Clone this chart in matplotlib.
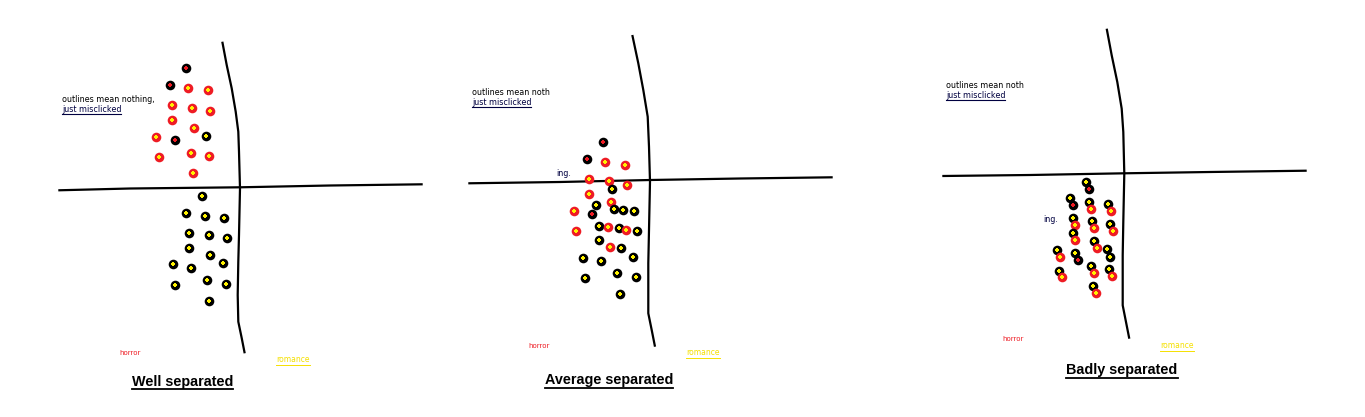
import numpy as np
import matplotlib.pyplot as plt

# ---------------------------------------------------------------
# point data (pixel coords, y grows down)
# kind: BY = black dot / yellow centre, RY = red dot / yellow centre,
#       BR = black dot / red centre
# ---------------------------------------------------------------
well_x = [185.7, 170.3, 188.3, 207.7, 172.3, 191.7, 210.0, 172.3, 194.0, 156.3,
          174.7, 206.3, 158.7, 190.7, 209.0, 192.7,
          202.3, 186.3, 204.7, 224.3, 189.0, 208.7, 226.7, 189.0, 210.3, 222.7,
          173.3, 191.3, 207.3, 225.7, 175.3, 209.3]
well_y = [68.3, 85.3, 88.3, 90.3, 105.3, 107.7, 110.7, 120.3, 127.7, 137.3,
          140.3, 136.3, 157.3, 153.3, 156.3, 173.3,
          195.7, 212.7, 216.0, 218.3, 232.7, 235.0, 238.3, 247.7, 255.3, 263.3,
          264.3, 267.7, 280.0, 283.7, 285.0, 300.7]
well_kind = ['BR', 'BR', 'RY', 'RY', 'RY', 'RY', 'RY', 'RY', 'RY', 'RY',
             'BR', 'BY', 'RY', 'RY', 'RY', 'RY'] + ['BY'] * 16

avg_x = [602.7, 587.0, 605.3, 624.7, 589.3, 609.0, 627.0, 612.3, 589.3, 611.3,
         596.3, 614.3, 623.3, 634.3, 573.7, 592.0, 599.0, 607.7, 618.7, 626.0,
         636.7, 575.7, 599.0, 610.0, 620.7, 632.7, 583.3, 601.3, 617.0, 635.7,
         585.3, 619.7]
avg_y = [142.3, 159.3, 162.3, 164.7, 179.3, 181.3, 185.0, 188.7, 194.3, 202.0,
         205.0, 209.0, 210.3, 211.3, 211.3, 214.0, 225.7, 227.3, 228.0, 230.3,
         231.3, 231.3, 240.3, 247.3, 248.3, 256.7, 257.7, 260.7, 273.3, 276.7,
         277.7, 293.7]
avg_kind = ['BR', 'BR', 'RY', 'RY', 'RY', 'RY', 'RY', 'BY', 'RY', 'RY',
            'BY', 'BY', 'BY', 'BY', 'RY', 'BR', 'BY', 'RY', 'BY', 'RY',
            'BY', 'RY', 'BY', 'RY', 'BY', 'BY', 'BY', 'BY', 'BY', 'BY',
            'BY', 'BY']

bad_x = [1086.0, 1089.0, 1070.3, 1073.3, 1088.7, 1091.3, 1108.3, 1110.7,
         1073.0, 1075.3, 1092.3, 1094.3, 1110.3, 1112.7, 1072.7, 1075.0,
         1094.3, 1097.3, 1107.0, 1109.7, 1057.3, 1059.7, 1075.3, 1078.0,
         1091.0, 1093.7, 1109.3, 1111.7, 1059.3, 1062.0, 1093.0, 1095.7]
bad_y = [181.7, 188.7, 198.3, 205.3, 202.0, 208.7, 203.7, 210.7,
         218.3, 225.3, 221.0, 227.7, 224.0, 231.0, 233.3, 240.3,
         241.0, 248.0, 249.3, 256.7, 250.3, 257.3, 253.3, 260.0,
         266.3, 273.3, 269.3, 276.3, 270.7, 277.3, 286.3, 293.3]
bad_kind = ['BY', 'BR', 'BY', 'BR', 'BY', 'RY', 'BY', 'RY',
            'BY', 'RY', 'BY', 'RY', 'BY', 'RY', 'BY', 'RY',
            'BY', 'RY', 'BY', 'BY', 'BY', 'RY', 'BY', 'BR',
            'BY', 'RY', 'BY', 'RY', 'BY', 'RY', 'BY', 'RY']

# hand drawn separator lines
well_h = ([58.3, 130, 240.0, 330, 422.7], [190.3, 188.5, 187.3, 185.5, 184.3])
well_v = ([222.3, 226.7, 231.7, 235.7, 238.3, 239.0, 240.0, 239.0, 238.3,
           237.7, 238.3, 241.7, 244.7],
          [41.7, 65.0, 88.3, 111.7, 131.7, 151.7, 188.3, 235.0, 261.7,
           295.0, 321.7, 338.0, 353.3])
avg_h = ([468.3, 560, 650.3, 740, 832.7], [183.3, 182.0, 180.0, 178.5, 177.3])
avg_v = ([632.3, 638.3, 643.3, 647.7, 649.0, 650.0, 649.0, 648.3, 648.3,
          651.7, 655.0],
         [35.0, 63.3, 90.0, 116.7, 146.7, 181.7, 230.0, 263.3, 313.3,
          330.0, 346.7])
bad_h = ([942.3, 1030, 1124.3, 1210, 1306.7], [176.0, 175.0, 173.3, 172.0, 170.7])
bad_v = ([1106.7, 1111.7, 1117.3, 1121.7, 1123.3, 1124.3, 1123.3, 1122.7,
          1122.7, 1126.0, 1129.3],
         [28.7, 55.3, 82.0, 108.7, 132.0, 173.7, 222.0, 255.3, 305.3,
          322.0, 338.7])

titles = ['Well separated', 'Average separated', 'Badly separated']
title_pos = [(182.5, 381.7), (609.0, 380.0), (1122.0, 370.0)]
note1 = ['outlines mean nothing,', 'outlines mean noth', 'outlines mean noth']
note_pos = [(61.7, 99.3), (471.7, 92.3), (945.7, 85.3)]
note2_y = [109.3, 102.3, 95.3]
ing_pos = [None, (556.7, 173.3), (1043.3, 219.3)]
horror_pos = [(119.0, 352.7), (528.3, 346.0), (1002.7, 339.3)]
romance_pos = [(276.0, 360.0), (686.3, 352.7), (1160.0, 345.7)]

ring = {'BY': 'black', 'RY': '#ee1c24', 'BR': 'black'}
centre = {'BY': '#fff200', 'RY': '#fff200', 'BR': '#ee1c24'}
NAVY = '#000040'

fig = plt.figure(figsize=(13.65, 4.17), dpi=100)
ax = fig.add_axes([0, 0, 1, 1])
ax.set_xlim(0, 1365)
ax.set_ylim(417, 0)
ax.axis('off')

for hx, hy in [well_h, avg_h, bad_h]:
    ax.plot(hx, hy, color='black', lw=1.6, solid_capstyle='butt')
for vx, vy in [well_v, avg_v, bad_v]:
    ax.plot(vx, vy, color='black', lw=1.6, solid_capstyle='butt',
            solid_joinstyle='round')

# points, drawn in order so the later dot sits on top
for xs, ys, kinds in [(well_x, well_y, well_kind),
                      (avg_x, avg_y, avg_kind),
                      (bad_x, bad_y, bad_kind)]:
    for i, (x, y, k) in enumerate(zip(xs, ys, kinds)):
        ax.scatter(x, y, s=48, color=ring[k], linewidths=0, zorder=3 + i * 0.01)
        ax.scatter(x, y, s=9, marker='P', color=centre[k], linewidths=0,
                   zorder=3.005 + i * 0.01)

underlined = []
for i in range(3):
    t = ax.text(title_pos[i][0], title_pos[i][1], titles[i], ha='center',
                va='center', fontsize=10.4, fontweight='bold',
                family='Liberation Sans', color='black')
    underlined.append((t, 'black', 1.3))
    ax.text(note_pos[i][0], note_pos[i][1], note1[i], ha='left', va='center',
            fontsize=5.8, color='black')
    t = ax.text(note_pos[i][0], note2_y[i], 'just misclicked', ha='left',
                va='center', fontsize=5.8, color=NAVY)
    underlined.append((t, NAVY, 0.8))
    if ing_pos[i] is not None:
        ax.text(ing_pos[i][0], ing_pos[i][1], 'ing.', ha='left', va='center',
                fontsize=5.8, color=NAVY)
    ax.text(horror_pos[i][0], horror_pos[i][1], 'horror', ha='left',
            va='center', fontsize=5, color='#ee1c24')
    t = ax.text(romance_pos[i][0], romance_pos[i][1], 'romance', ha='left',
                va='center', fontsize=5.5, color='#f5e000')
    underlined.append((t, '#f5e000', 0.7))

# underline texts using their rendered extents
fig.canvas.draw()
renderer = fig.canvas.get_renderer()
inv = ax.transData.inverted()
for t, col, lw in underlined:
    bb = t.get_window_extent(renderer)
    (x0, y0), (x1, y1) = inv.transform([(bb.x0, bb.y0), (bb.x1, bb.y1)])
    ax.plot([x0, x1], [y0 + 0.5, y0 + 0.5], color=col, lw=lw)

fig.savefig('out.png', dpi=100)
